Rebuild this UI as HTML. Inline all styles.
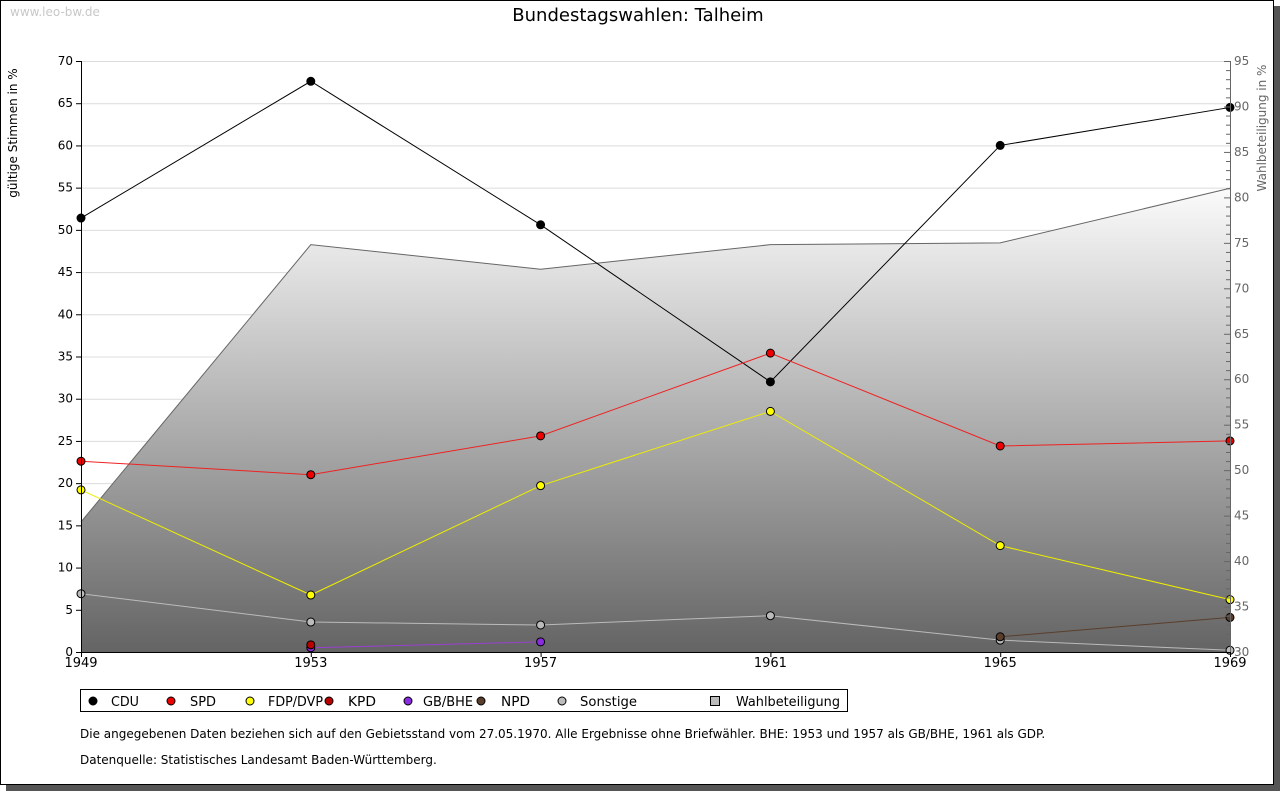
<!DOCTYPE html>
<html><head><meta charset="utf-8"><style>
body{margin:0;background:#fff;font-family:"DejaVu Sans","Liberation Sans",sans-serif;}
svg{display:block}
</style></head><body>
<svg id="chart" width="1280" height="791" xmlns="http://www.w3.org/2000/svg">
<defs>
<linearGradient id="ag" gradientUnits="userSpaceOnUse" x1="0" y1="188" x2="0" y2="652">
<stop offset="0" stop-color="#fbfbfb"/><stop offset="1" stop-color="#646464"/>
</linearGradient>
</defs>
<rect x="6" y="6" width="1274" height="785" fill="#555"/>
<rect x="0.5" y="0.5" width="1273" height="784" fill="#fff" stroke="#000"/>
<text x="10" y="16" font-size="12" fill="#c8c8c8">www.leo-bw.de</text>
<text x="638" y="21" font-size="18" text-anchor="middle" fill="#000">Bundestagswahlen: Talheim</text>
<text transform="translate(17,133) rotate(-90)" font-size="12" text-anchor="middle">gültige Stimmen in %</text>
<text transform="translate(1266,128) rotate(-90)" font-size="12" text-anchor="middle" fill="#666">Wahlbeteiligung in %</text>
<g id="grid"></g><g id="area"></g><g id="lines"></g><g id="axes"></g>
<g>
<rect x="80.5" y="689.5" width="767" height="22" fill="#fff" stroke="#000"/>
<g id="legend"></g>
</g>
<text x="80" y="738" font-size="12">Die angegebenen Daten beziehen sich auf den Gebietsstand vom 27.05.1970. Alle Ergebnisse ohne Briefwähler. BHE: 1953 und 1957 als GB/BHE, 1961 als GDP.</text>
<text x="80" y="764" font-size="12">Datenquelle: Statistisches Landesamt Baden-Württemberg.</text>
</svg>
<script>
const years=[1949,1953,1957,1961,1965,1969];
const cdu=[51.4,67.6,50.6,32.0,60.0,64.5];
const spd=[22.6,21.0,25.6,35.4,24.4,25.0];
const fdp=[19.2,6.75,19.7,28.5,12.6,6.2];
const kpd=[null,0.85,null,null,null,null];
const bhe=[null,0.5,1.2,null,null,null];
const npd=[null,null,null,null,1.8,4.1];
const sonst=[6.9,3.55,3.2,4.3,1.4,0.2];
const turnout=[44.3,74.8,72.1,74.8,75.0,81.0];
const leftTicks=[0,5,10,15,20,25,30,35,40,45,50,55,60,65,70];
const rightTicks=[30,35,40,45,50,55,60,65,70,75,80,85,90,95];
const NS="http://www.w3.org/2000/svg";
const X0=81,X1=1230,Y0=652,Y1=61;
const xs=i=>X0+(X1-X0)*i/(years.length-1);
const yl=v=>Y0-(Y0-Y1)*v/70;
const yr=v=>Y0-(Y0-Y1)*(v-30)/65;
function mk(tag,at,parent){const e=document.createElementNS(NS,tag);for(const k in at)e.setAttribute(k,at[k]);parent.appendChild(e);return e;}
const g=document.getElementById('grid'),ar=document.getElementById('area'),ln=document.getElementById('lines'),ax=document.getElementById('axes'),lg=document.getElementById('legend');
leftTicks.forEach(t=>{
 if(t>0){const l=mk('line',{x1:X0,x2:X1,y1:yl(t)+.5,y2:yl(t)+.5,stroke:'#dcdcdc'},g);
 
 }
 mk('line',{x1:X0-5,x2:X0,y1:yl(t)+.5,y2:yl(t)+.5,stroke:'#000'},ax);
 const tx=mk('text',{x:X0-8,y:yl(t)+4,'font-size':12,'text-anchor':'end'},ax);tx.textContent=t;
 
 
});
for(let v=30;v<=95;v++){mk('line',{x1:X1-(v%5?4:6),x2:X1,y1:yr(v)+.5,y2:yr(v)+.5,stroke:'#666'},ax);}
rightTicks.forEach(t=>{const tx=mk('text',{x:X1+4,y:yr(t)+4,'font-size':12,fill:'#666'},ax);tx.textContent=t;
 
 });
let pts=turnout.map((v,i)=>xs(i)+','+yr(v)).join(' ');
const poly=mk('polygon',{points:X0+','+Y0+' '+pts+' '+X1+','+Y0,fill:'url(#ag)'},ar);


const pl=mk('polyline',{points:pts,fill:'none',stroke:'#666'},ar);


mk('line',{x1:X0+.5,x2:X0+.5,y1:Y1,y2:Y0,stroke:'#000'},ax);
mk('line',{x1:X1+.5,x2:X1+.5,y1:Y1,y2:Y0,stroke:'#666'},ax);
mk('line',{x1:X0,x2:X1,y1:Y0+.5,y2:Y0+.5,stroke:'#000'},ax);
years.forEach((y,i)=>{mk('line',{x1:xs(i)+.5,x2:xs(i)+.5,y1:Y0,y2:Y0+5,stroke:'#000'},ax);
 const tx=mk('text',{x:xs(i),y:Y0+15,'font-size':13,'text-anchor':'middle'},ax);tx.textContent=y;
 
 });
const series=[['cdu',cdu,'#000','#000'],['sonstige',sonst,'#bbb','#bbb'],['npd',npd,'#5a3e2b','#5a3e2b'],['gb-bhe',bhe,'#8a2be2','#9a40d0'],['kpd',kpd,'#b00','#b00'],['fdp-dvp',fdp,'#ff0','#ee0'],['spd',spd,'#e00','#e22']];
series.forEach(([n,d,c,lc])=>{
 const sg=mk('g',{},ln);
 
 
 const p=[];d.forEach((v,i)=>{if(v!=null)p.push(xs(i)+','+yl(v));});
 if(p.length>1)mk('polyline',{points:p.join(' '),fill:'none',stroke:lc,'stroke-width':1},sg);
 d.forEach((v,i)=>{if(v==null)return;const m=mk('circle',{cx:xs(i),cy:yl(v),r:4,fill:c,stroke:'#000','stroke-width':1},sg);
  
  });
});
const leg=[['CDU','#000',93,111,28],['SPD','#e00',171,190,26],['FDP/DVP','#ff0',250,268,55],['KPD','#b00',329,348,28],['GB/BHE','#8a2be2',408,423,50],['NPD','#5a3e2b',481,501,29],['Sonstige','#bbb',562,580,57]];
leg.forEach(([t,c,mx,tx,w])=>{const e=mk('g',{},lg);
 
 
 mk('circle',{cx:mx,cy:701,r:4,fill:c,stroke:'#000'},e);
 const s=mk('text',{x:tx,y:706,'font-size':13,textLength:w,lengthAdjust:'spacingAndGlyphs'},e);s.textContent=t;});
const we=mk('g',{},lg);


mk('rect',{x:710.5,y:696.5,width:9,height:9,fill:'#bbb',stroke:'#000'},we);
const wt=mk('text',{x:736,y:706,'font-size':13,textLength:104,lengthAdjust:'spacingAndGlyphs'},we);wt.textContent='Wahlbeteiligung';
</script>
</body></html>
